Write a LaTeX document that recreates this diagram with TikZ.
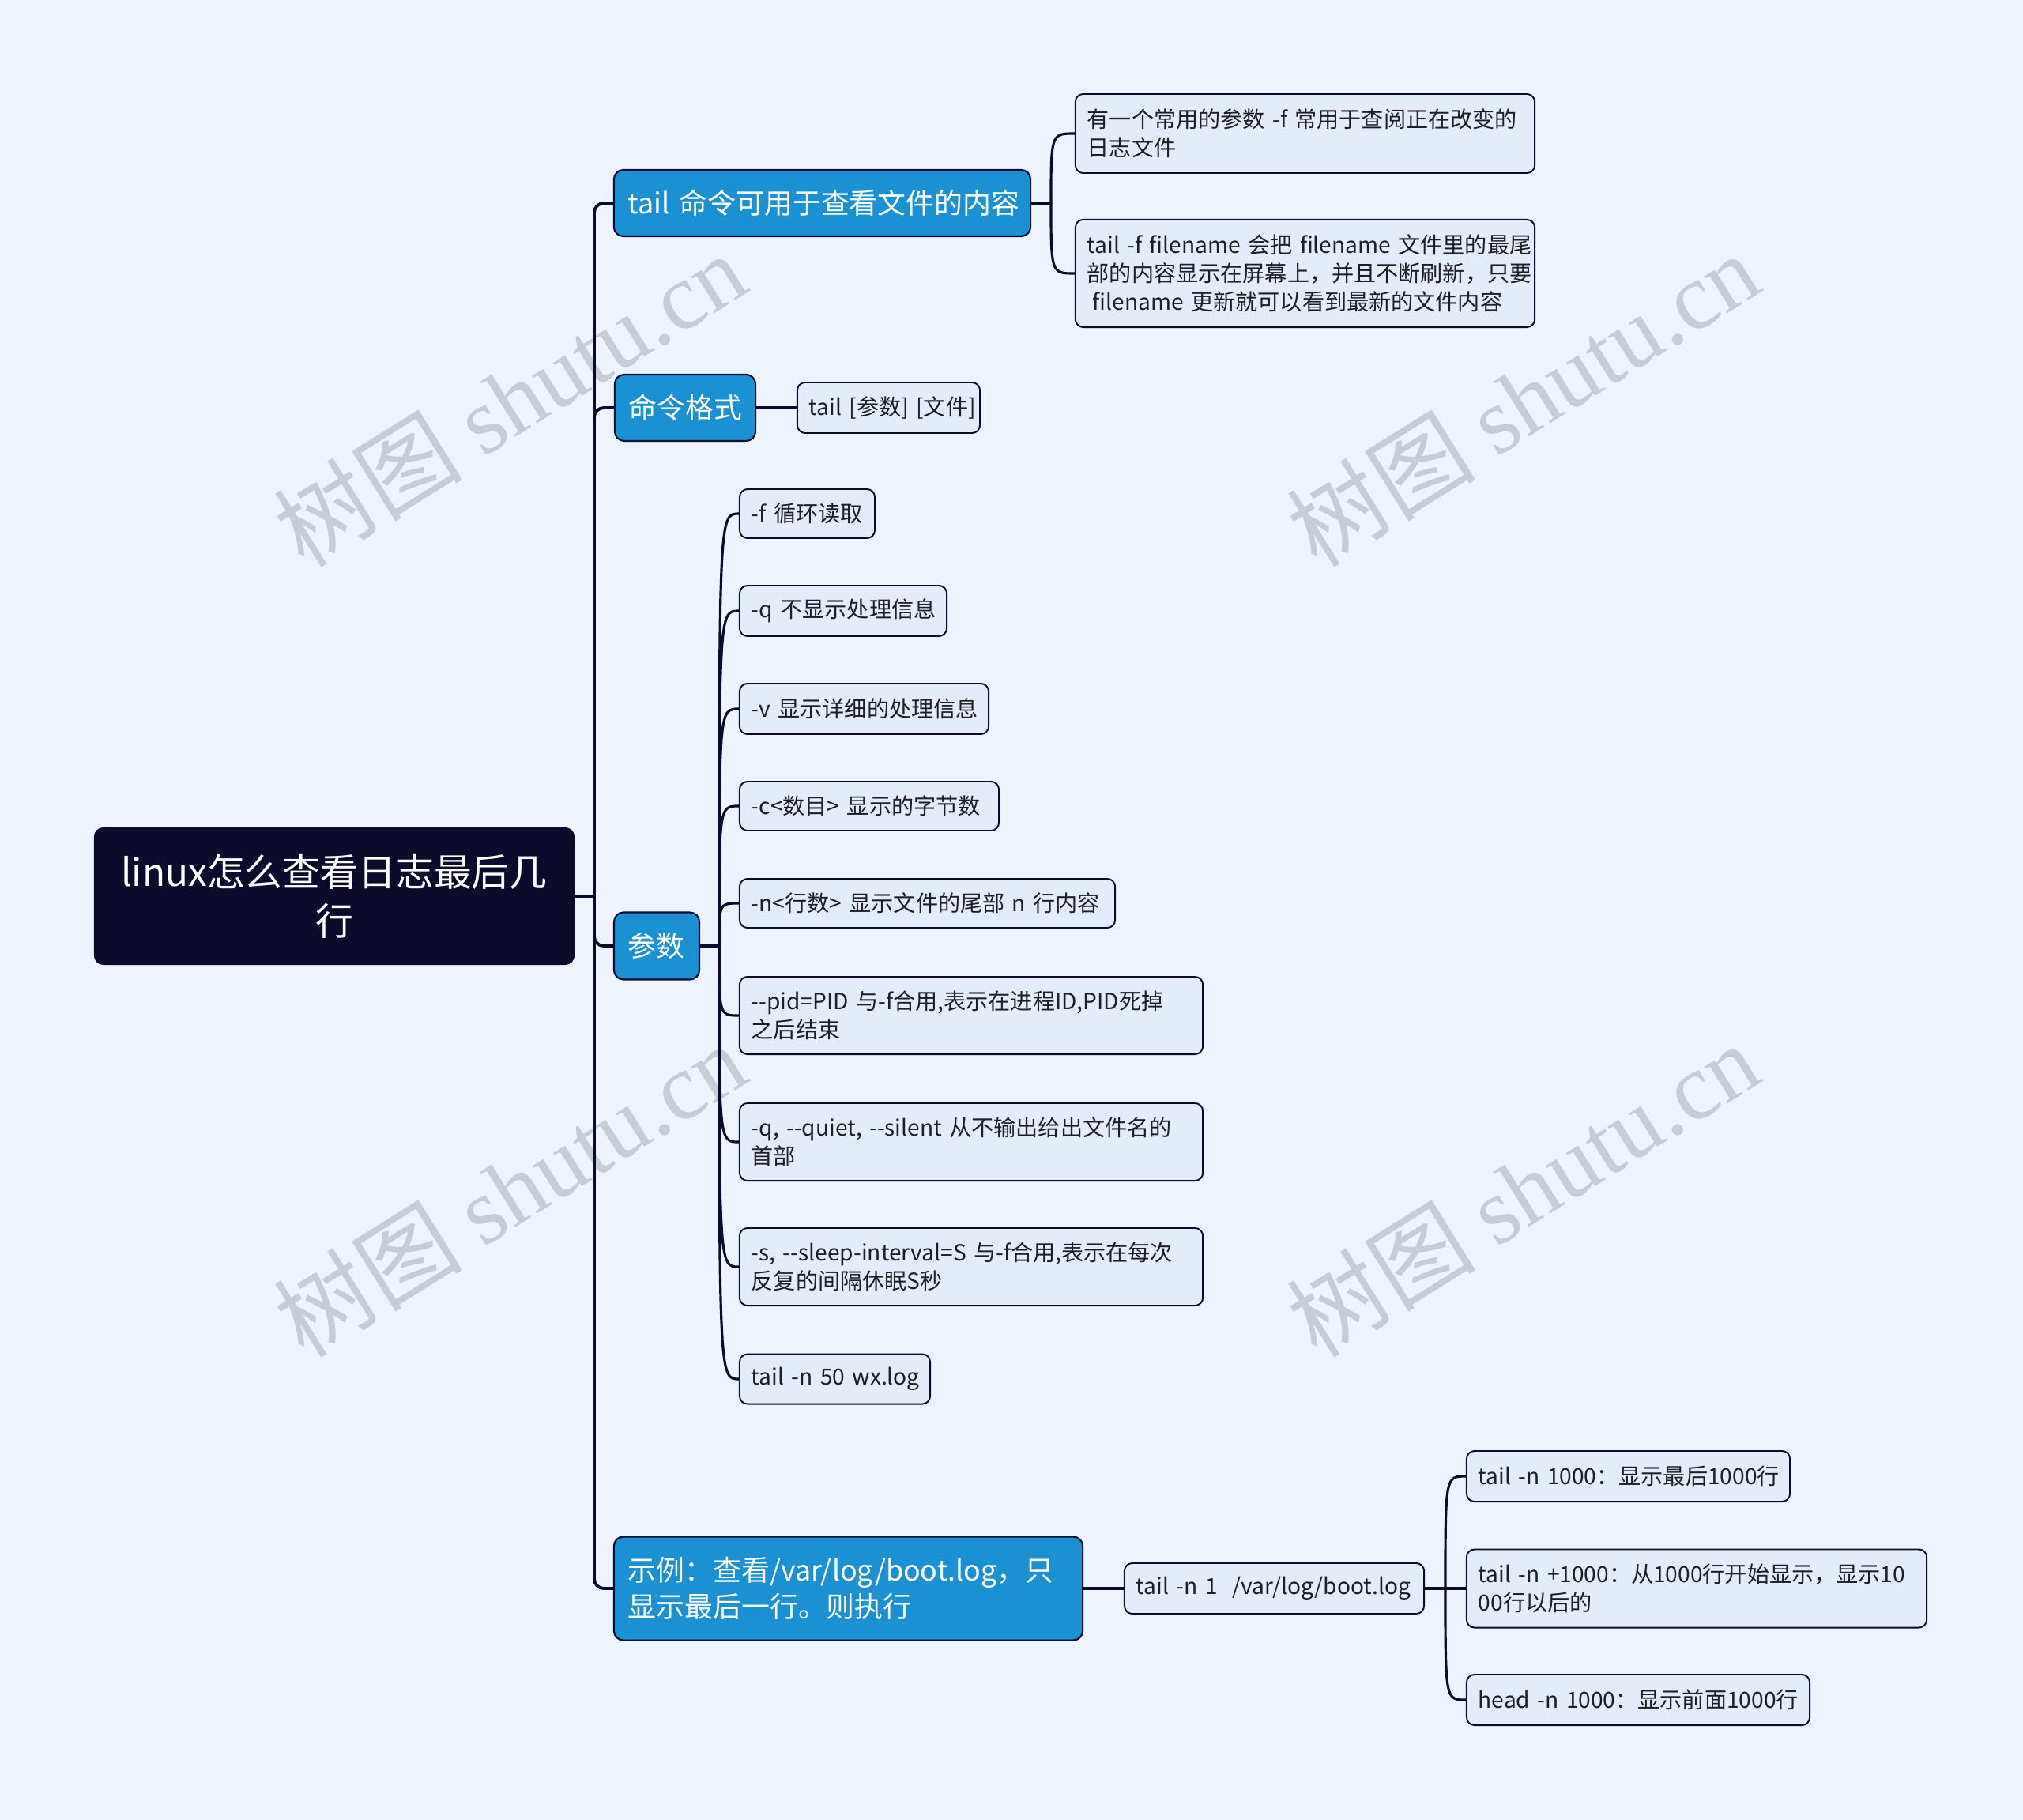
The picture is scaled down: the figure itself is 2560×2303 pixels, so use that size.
\documentclass[tikz,border=0pt]{standalone}
\usepackage{fontspec}
\setmainfont{Noto Sans CJK SC}[Ligatures=TeXOff]
\newfontfamily\wmserif{Liberation Serif}
\usepackage{xcolor}
\hyphenpenalty=10000
\exhyphenpenalty=10000

\definecolor{bgcol}{RGB}{238,244,254}
\definecolor{ink}{RGB}{12,11,44}
\definecolor{topicblue}{RGB}{27,145,211}
\definecolor{leaffill}{RGB}{228,236,250}
\definecolor{leaftext}{RGB}{30,30,36}
\definecolor{wmcol}{RGB}{198,205,217}

\tikzset{
  rootbox/.style={fill=ink, rounded corners=0.12cm, text=white, align=center,
    font=\fontsize{13.6}{17.6}\selectfont, inner xsep=0.24cm, inner ysep=0.05cm},
  topic/.style={draw=ink, line width=0.6pt, fill=topicblue, rounded corners=0.12cm,
    text=white, align=left, font=\fontsize{10.2}{13.3}\selectfont,
    inner xsep=0.18cm, inner ysep=0.05cm},
  leaf/.style={draw=ink, line width=0.55pt, fill=leaffill, rounded corners=0.1cm,
    text=leaftext, align=left, font=\fontsize{8}{10.2}\selectfont,
    inner xsep=0.15cm, inner ysep=0.05cm},
  trunk/.style={draw=ink, line width=1.1pt},
  branch/.style={draw=ink, line width=0.9pt},
  wmark/.style={text=wmcol, rotate=32, font=\fontsize{34}{34}\selectfont}
}

\begin{document}
\begin{tikzpicture}[x=0.01cm, y=-0.01cm]
  % tlo
  \fill[bgcol] (0,0) rectangle (2560,2303);
  \useasboundingbox (0,0) rectangle (2560,2303);

  % znaki wodne
  \node[wmark] (wm1) at (645,505) {树图 {\wmserif shutu.cn}};
  \node[wmark] (wm2) at (1927,505) {树图 {\wmserif shutu.cn}};
  \node[wmark] (wm3) at (645,1505) {树图 {\wmserif shutu.cn}};
  \node[wmark] (wm4) at (1927,1505) {树图 {\wmserif shutu.cn}};

  % temat glowny
  \node[rootbox, text width=5.6cm, minimum height=1.74cm] (root) at (423,1134)
    {linux怎么查看日志最后几\\行};

  % galezie pierwszego poziomu
  \node[topic, text width=4.91cm, minimum height=0.84cm] (tail) at (1040.5,257)
    {tail~命令可用于查看文件的内容};
  \node[topic, text width=1.42cm, minimum height=0.84cm] (format) at (867,516) {命令格式};
  \node[topic, text width=0.72cm, minimum height=0.85cm] (params) at (831,1197) {参数};
  \node[topic, text width=5.57cm, minimum height=1.31cm] (example) at (1073.5,2010)
    {示例：查看/var/log/boot.log，只\\显示最后一行。则执行};

  % liscie: tail
  \node[leaf, text width=5.51cm, minimum height=1.0cm] (tailA) at (1651.5,169)
    {有一个常用的参数~-f~常用于查阅正在改变的\\日志文件};
  \node[leaf, text width=5.51cm, minimum height=1.36cm] (tailB) at (1651.5,346)
    {tail~-f~filename~会把~filename~文件里的最尾\\部的内容显示在屏幕上，并且不断刷新，只要\\\hspace*{0.25em}filename~更新就可以看到最新的文件内容};

  % liscie: format
  \node[leaf, text width=2.01cm, minimum height=0.64cm] (syntax) at (1124.5,516)
    {tail~[参数]~[文件]};

  % liscie: params
  \node[leaf, text width=1.41cm, minimum height=0.62cm] (p1) at (1021.5,650) {-f~循环读取};
  \node[leaf, text width=2.32cm, minimum height=0.64cm] (p2) at (1067,773) {-q~不显示处理信息};
  \node[leaf, text width=2.85cm, minimum height=0.64cm] (p3) at (1093.5,897) {-v~显示详细的处理信息};
  \node[leaf, text width=2.98cm, minimum height=0.62cm] (p4) at (1100,1020) {-c<数目>~显示的字节数};
  \node[leaf, text width=4.45cm, minimum height=0.62cm] (p5) at (1173.5,1143)
    {-n<行数>~显示文件的尾部~n~行内容};
  \node[leaf, text width=5.56cm, minimum height=0.98cm] (p6) at (1229,1285)
    {--pid=PID~与-f合用,表示在进程ID,PID死掉\\之后结束};
  \node[leaf, text width=5.56cm, minimum height=0.98cm] (p7) at (1229,1445)
    {-q,~--quiet,~--silent~从不输出给出文件名的\\首部};
  \node[leaf, text width=5.56cm, minimum height=0.98cm] (p8) at (1229,1603)
    {-s,~--sleep-interval=S~与-f合用,表示在每次\\反复的间隔休眠S秒};
  \node[leaf, text width=2.11cm, minimum height=0.63cm] (p9) at (1056.5,1745) {tail~-n~50~wx.log};

  % liscie: example
  \node[leaf, text width=3.49cm, minimum height=0.64cm] (boot) at (1612.5,2010)
    {tail~-n~1~~/var/log/boot.log};
  \node[leaf, text width=3.79cm, minimum height=0.64cm] (lastN) at (2060.5,1868)
    {tail~-n~1000：显示最后1000行};
  \node[leaf, text width=5.52cm, minimum height=0.99cm] (fromN) at (2147,2010)
    {tail~-n~+1000：从1000行开始显示，显示10\\00行以后的};
  \node[leaf, text width=4.04cm, minimum height=0.64cm] (headN) at (2073,2151)
    {head~-n~1000：显示前面1000行};

  % pien
  \coordinate (stem) at (752,1134);
  \draw[trunk] (root.east) -- (stem);
  \foreach \t in {tail, format, params, example}
    \draw[trunk, rounded corners=0.12cm] (stem) |- (\t.west);

  % polaczenia do lisci
  \coordinate (jtail) at (1330,257);
  \draw[trunk] (tail.east) -- (jtail);
  \foreach \c in {tailA, tailB}
    \draw[branch] (jtail) .. controls (jtail |- \c.west) .. (\c.west);

  \draw[trunk] (format.east) -- (syntax.west);

  \coordinate (jparams) at (910,1197);
  \draw[trunk] (params.east) -- (jparams);
  \foreach \c in {p1, p2, p3, p4, p5, p6, p7, p8, p9}
    \draw[branch] (jparams) .. controls (jparams |- \c.west) .. (\c.west);

  \draw[trunk] (example.east) -- (boot.west);
  \coordinate (jboot) at (1829,2010);
  \draw[trunk] (boot.east) -- (jboot);
  \foreach \c in {lastN, fromN, headN}
    \draw[branch] (jboot) .. controls (jboot |- \c.west) .. (\c.west);
\end{tikzpicture}
\end{document}
